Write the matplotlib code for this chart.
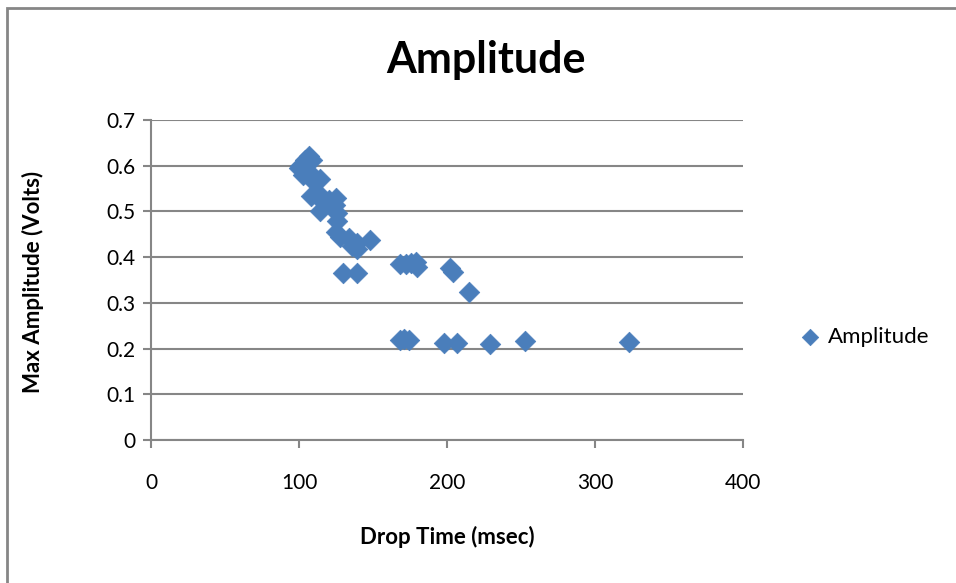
import matplotlib.pyplot as plt
from matplotlib.patches import Rectangle

# values
drop_time = [101, 104, 107, 109, 100, 103, 107, 110, 114, 108, 113, 116, 114, 120,
             124, 125, 126, 126, 125, 128, 134, 136, 139, 139, 148, 130, 139,
             168, 172, 176, 179, 180, 202, 204, 215,
             168, 171, 174, 198, 207, 229, 253, 323]
max_amplitude = [0.600, 0.613, 0.621, 0.612, 0.595, 0.580, 0.586, 0.565, 0.570, 0.534,
                 0.540, 0.520, 0.500, 0.525, 0.514, 0.530, 0.497, 0.480, 0.455, 0.445,
                 0.442, 0.425, 0.432, 0.418, 0.438, 0.365, 0.365,
                 0.385, 0.385, 0.388, 0.390, 0.378, 0.376, 0.367, 0.324,
                 0.219, 0.222, 0.219, 0.212, 0.212, 0.210, 0.216, 0.214]
x_ticks = [0, 100, 200, 300, 400]
y_ticks = [0, 0.1, 0.2, 0.3, 0.4, 0.5, 0.6, 0.7]
y_tick_labels = ["0", "0.1", "0.2", "0.3", "0.4", "0.5", "0.6", "0.7"]

GRID = "#868686"
BLUE = "#4a7ebb"
W, H = 956, 583


def main():
    plt.rcParams["font.family"] = ["Lato", "DejaVu Sans"]
    fig = plt.figure(figsize=(W / 100, H / 100), dpi=100)
    ax = fig.add_axes([151 / W, 1 - 440 / H, (743 - 151) / W, (440 - 120) / H])

    ax.scatter(drop_time, max_amplitude, marker="D", s=110, color=BLUE,
               edgecolor=BLUE, linewidth=0.5, label="Amplitude", zorder=3)

    ax.set_xlim(0, 400)
    ax.set_ylim(0, 0.7)
    ax.set_xticks(x_ticks)
    ax.set_yticks(y_ticks)
    ax.set_yticklabels(y_tick_labels)
    ax.grid(axis="y", color=GRID, linewidth=1.5, zorder=0)
    ax.set_axisbelow(True)

    for side in ["top", "right"]:
        ax.spines[side].set_visible(False)
    for side in ["left", "bottom"]:
        ax.spines[side].set_color(GRID)
        ax.spines[side].set_linewidth(1.5)
    ax.tick_params(axis="both", colors=GRID, labelcolor="black", labelsize=15,
                   length=6, width=1.5, direction="out")
    ax.tick_params(axis="x", pad=18)
    ax.tick_params(axis="y", pad=5)

    # title and axis titles placed where the reference has them
    fig.text(486 / W, 1 - 60 / H, "Amplitude", fontsize=31, fontweight="bold",
             ha="center", va="center")
    fig.text(447 / W, 1 - 537 / H, "Drop Time (msec)", fontsize=16,
             fontweight="bold", ha="center", va="center")
    fig.text(33 / W, 1 - 282 / H, "Max Amplitude (Volts)", fontsize=16,
             fontweight="bold", ha="center", va="center", rotation=90)

    fig.legend(*ax.get_legend_handles_labels(), loc="center left",
               bbox_to_anchor=(788 / W, 1 - 337 / H), frameon=False,
               fontsize=16, handletextpad=-0.2, markerscale=0.8,
               borderaxespad=0, borderpad=0)

    # chart area border (only the left and top edges fall inside the picture)
    fig.patches.append(Rectangle((7 / W, -0.1), 2, 1.1 - 8 / H,
                                 transform=fig.transFigure, fill=False,
                                 edgecolor=GRID, linewidth=2))

    fig.savefig("out.png", dpi=100)


if __name__ == "__main__":
    main()
